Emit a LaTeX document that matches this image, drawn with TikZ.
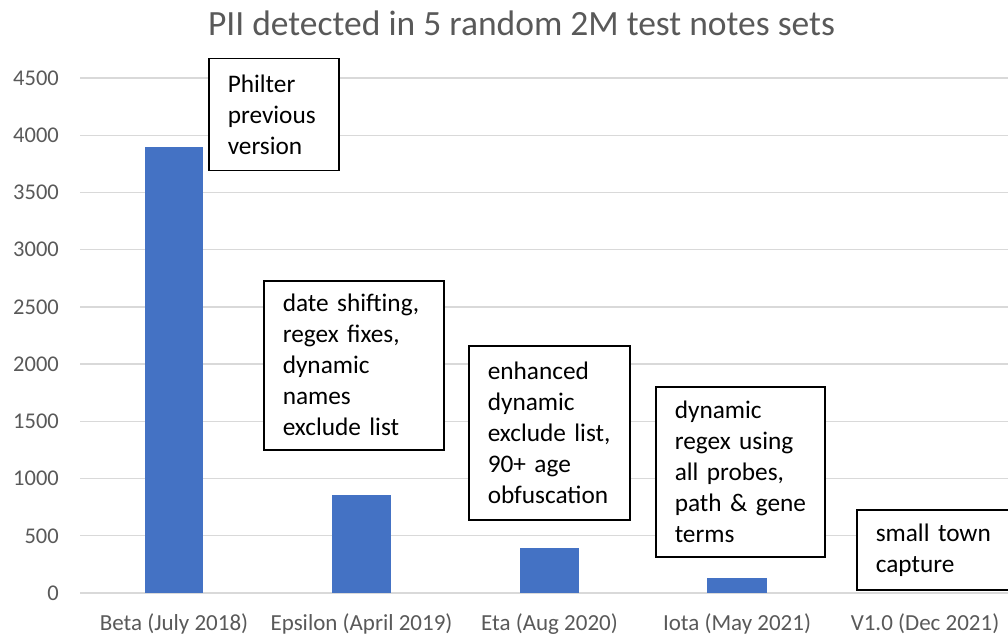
\documentclass[tikz,border=0pt]{standalone}
\usepackage{fontspec}
\setmainfont{Carlito}
\definecolor{barblue}{HTML}{4472C4}
\definecolor{axisgray}{HTML}{595959}
\definecolor{gridgray}{HTML}{D9D9D9}
\tikzset{
  gridline/.style={draw=gridgray, line width=1.3pt},
  bar/.style={fill=barblue, draw=none},
  ticklabel/.style={text=axisgray, font=\fontsize{22.5}{27}\selectfont, anchor=east, inner sep=0pt},
  catlabel/.style={text=axisgray, font=\fontsize{23}{27}\selectfont, anchor=base, inner sep=0pt},
  notebox/.style={draw=black, line width=1.5pt, fill=white, anchor=north west,
    align=left, inner xsep=19pt, inner ysep=0pt,
    font=\fontsize{25.3}{31}\selectfont},
}
\begin{document}
\begin{tikzpicture}[x=1pt, y=-1pt]
  \useasboundingbox (0,0) rectangle (1008,636);
  \clip (0,0) rectangle (1008,636);
  % title
  \node[text=axisgray, font=\fontsize{35.5}{40}\selectfont, anchor=base, inner sep=0pt]
    (title) at (521.5,36) {PII detected in 5 random 2M test notes sets};
  % horizontal grid and value axis labels
  \foreach \v [count=\i from 0] in {0,500,1000,1500,2000,2500,3000,3500,4000,4500} {
    \pgfmathsetmacro{\yy}{593-57.22*\i}
    \draw[gridline] (80,\yy) -- (1008,\yy);
    \node[ticklabel] (tick\i) at (59,\yy) {\v};
  }
  % bars (value 500 = 57.22 units)
  \fill[bar] (145,147) rectangle (203,593);
  \fill[bar] (332,495) rectangle (391,593);
  \fill[bar] (520,548) rectangle (579,593);
  \fill[bar] (707,578) rectangle (767,593);
  % category labels
  \node[catlabel] (c1) at (174,630) {Beta (July 2018)};
  \node[catlabel] (c2) at (361.5,630) {Epsilon (April 2019)};
  \node[catlabel] (c3) at (549.5,630) {Eta (Aug 2020)};
  \node[catlabel] (c4) at (737,630) {Iota (May 2021)};
  \node[catlabel] (c5) at (925,630) {V1.0 (Dec 2021)};
  % annotation boxes (non-breaking spaces keep each line intact)
  \node[notebox, minimum width=130pt, minimum height=112pt, text width=92pt] (n1) at (208,58)
    {Philter\\previous\\version};
  \node[notebox, minimum width=180pt, minimum height=169pt, text width=142pt] (n2) at (263,280)
    {date~shifting,\\regex~fixes,\\dynamic\\names\\exclude~list};
  \node[notebox, minimum width=161pt, minimum height=174pt, text width=123pt] (n3) at (468,345)
    {enhanced\\dynamic\\exclude~list,\\90+~age\\obfuscation};
  \node[notebox, minimum width=169pt, minimum height=170pt, text width=131pt] (n4) at (655,386)
    {dynamic\\regex~using\\all~probes,\\path~\&~gene\\terms};
  \node[notebox, minimum width=170pt, minimum height=80pt, text width=132pt] (n5) at (856,509)
    {small~town\\capture};
\end{tikzpicture}
\end{document}
